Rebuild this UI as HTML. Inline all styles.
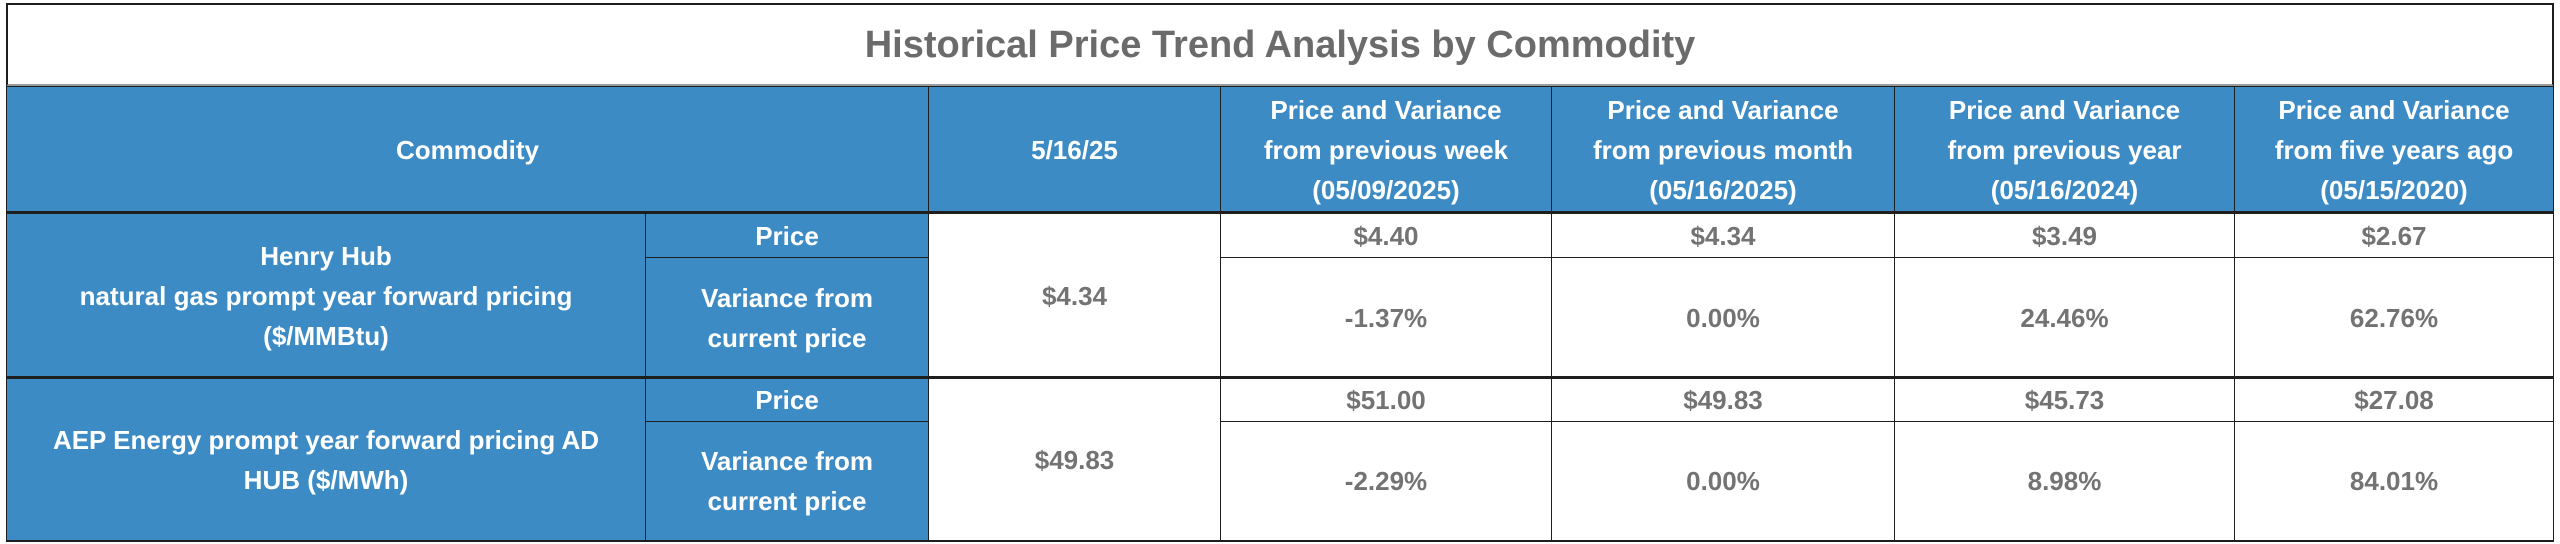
<!DOCTYPE html>
<html><head><meta charset="utf-8"><style>
html,body{margin:0;padding:0;background:#fff;}
body{width:2560px;height:544px;position:relative;overflow:hidden;font-family:"Liberation Sans",Arial,sans-serif;font-weight:bold;}
.c{position:absolute;box-sizing:border-box;border:1.5px solid #1e1e1e;display:flex;align-items:center;justify-content:center;text-align:center;font-size:26px;line-height:40px;}
.b{background:#3d8bc4;color:#fff;}
.w{background:#fff;color:#737373;}
</style></head><body>
<div class="c w" style="left:6px;top:3px;width:2548px;height:84px;font-size:38px;color:#6b6b6b;border-width:2px;border-bottom:3px solid #9a9a9a;">Historical Price Trend Analysis by Commodity</div>

<div class="c b" style="left:6px;top:86px;width:923px;height:127px;">Commodity</div>
<div class="c b" style="left:928px;top:86px;width:293px;height:127px;">5/16/25</div>
<div class="c b" style="left:1220px;top:86px;width:332px;height:127px;">Price and Variance<br>from previous week<br>(05/09/2025)</div>
<div class="c b" style="left:1551px;top:86px;width:344px;height:127px;">Price and Variance<br>from previous month<br>(05/16/2025)</div>
<div class="c b" style="left:1894px;top:86px;width:341px;height:127px;">Price and Variance<br>from previous year<br>(05/16/2024)</div>
<div class="c b" style="left:2234px;top:86px;width:320px;height:127px;">Price and Variance<br>from five years ago<br>(05/15/2020)</div>

<!-- Row 1 -->
<div class="c b" style="left:6px;top:211px;width:640px;height:167px;border-top-width:3px;">Henry Hub<br>natural gas prompt year forward pricing<br>($/MMBtu)</div>
<div class="c b" style="left:645px;top:211px;width:284px;height:47px;border-top-width:3px;">Price</div>
<div class="c b" style="left:645px;top:257px;width:284px;height:121px;">Variance from<br>current price</div>
<div class="c w" style="left:928px;top:211px;width:293px;height:167px;border-top-width:3px;">$4.34</div>
<div class="c w" style="left:1220px;top:211px;width:332px;height:47px;border-top-width:3px;">$4.40</div>
<div class="c w" style="left:1551px;top:211px;width:344px;height:47px;border-top-width:3px;">$4.34</div>
<div class="c w" style="left:1894px;top:211px;width:341px;height:47px;border-top-width:3px;">$3.49</div>
<div class="c w" style="left:2234px;top:211px;width:320px;height:47px;border-top-width:3px;">$2.67</div>
<div class="c w" style="left:1220px;top:257px;width:332px;height:121px;">-1.37%</div>
<div class="c w" style="left:1551px;top:257px;width:344px;height:121px;">0.00%</div>
<div class="c w" style="left:1894px;top:257px;width:341px;height:121px;">24.46%</div>
<div class="c w" style="left:2234px;top:257px;width:320px;height:121px;">62.76%</div>

<!-- Row 2 -->
<div class="c b" style="left:6px;top:376px;width:640px;height:166px;border-top-width:3px;border-bottom-width:2.5px;">AEP Energy prompt year forward pricing AD<br>HUB ($/MWh)</div>
<div class="c b" style="left:645px;top:376px;width:284px;height:46px;border-top-width:3px;">Price</div>
<div class="c b" style="left:645px;top:421px;width:284px;height:121px;border-bottom-width:2.5px;">Variance from<br>current price</div>
<div class="c w" style="left:928px;top:376px;width:293px;height:166px;border-top-width:3px;border-bottom-width:2.5px;">$49.83</div>
<div class="c w" style="left:1220px;top:376px;width:332px;height:46px;border-top-width:3px;">$51.00</div>
<div class="c w" style="left:1551px;top:376px;width:344px;height:46px;border-top-width:3px;">$49.83</div>
<div class="c w" style="left:1894px;top:376px;width:341px;height:46px;border-top-width:3px;">$45.73</div>
<div class="c w" style="left:2234px;top:376px;width:320px;height:46px;border-top-width:3px;">$27.08</div>
<div class="c w" style="left:1220px;top:421px;width:332px;height:121px;border-bottom-width:2.5px;">-2.29%</div>
<div class="c w" style="left:1551px;top:421px;width:344px;height:121px;border-bottom-width:2.5px;">0.00%</div>
<div class="c w" style="left:1894px;top:421px;width:341px;height:121px;border-bottom-width:2.5px;">8.98%</div>
<div class="c w" style="left:2234px;top:421px;width:320px;height:121px;border-bottom-width:2.5px;">84.01%</div>
</body></html>
